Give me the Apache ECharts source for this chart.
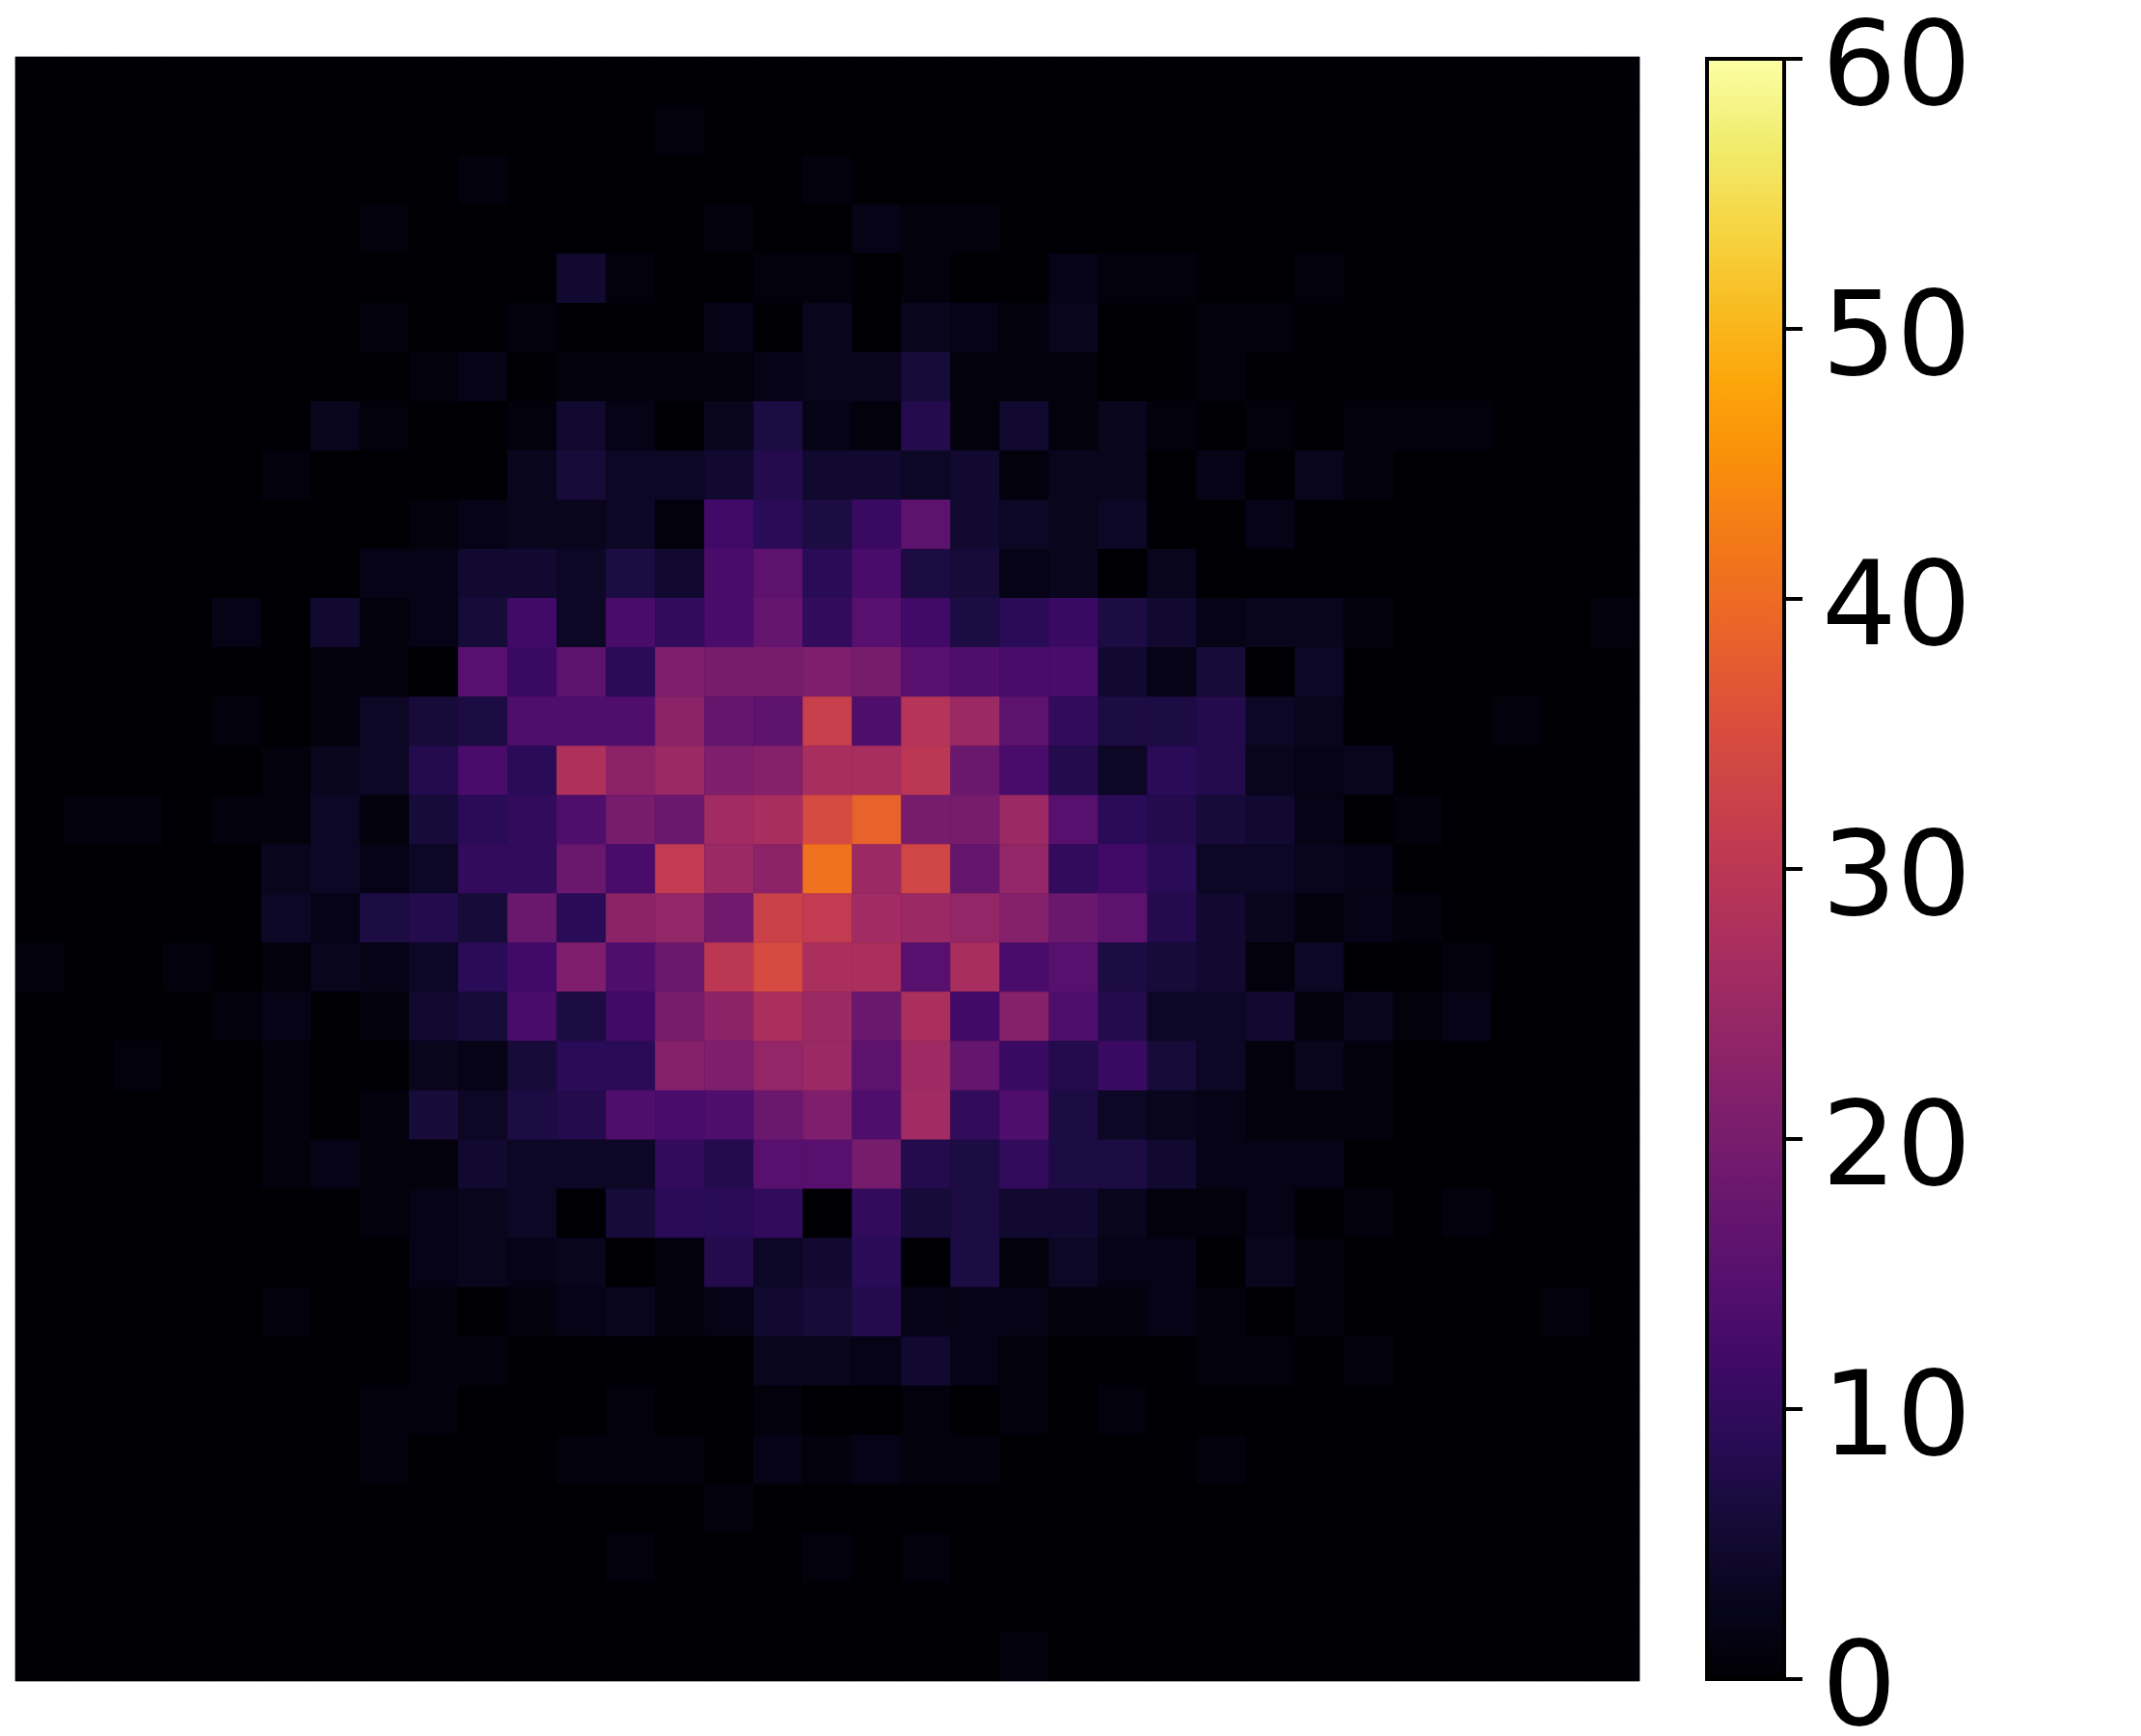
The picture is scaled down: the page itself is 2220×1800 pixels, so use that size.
<!DOCTYPE html>
<html>
<head>
<meta charset="utf-8">
<style>
  html, body { margin: 0; padding: 0; background: #fff; }
  #chart { width: 2220px; height: 1800px; }
</style>
<script src="https://cdn.jsdelivr.net/npm/echarts@6/dist/echarts.min.js"></script>
</head>
<body>
<div id="chart"></div>
<script>
const xCategories = ['0','1','2','3','4','5','6','7','8','9','10','11','12','13','14','15','16','17','18','19','20','21','22','23','24','25','26','27','28','29','30','31','32'];
const yCategories = ['0','1','2','3','4','5','6','7','8','9','10','11','12','13','14','15','16','17','18','19','20','21','22','23','24','25','26','27','28','29','30','31','32'];
const colorbarTicks = [0, 10, 20, 30, 40, 50, 60];

// inferno, sampled every 5%
const inferno = ['#000004','#08051d','#160b39','#2a0b57','#420a68','#57106e','#6a176e','#7e1e6c','#932667','#a82e5f','#bc3754','#cd4347','#dd513a','#ea6528','#f37819','#f98e0a','#fca50a','#f8be24','#f6d746','#f1ed71','#fcffa4'];

// one row per line, top row of the picture first
const counts = [
  [0,0,0,0,0,0,0,0,0,0,0,0,0,0,0,0,0,0,0,0,0,0,0,0,0,0,0,0,0,0,0,0,0],
  [0,0,0,0,0,0,0,0,0,0,0,0,0,1,0,0,0,0,0,0,0,0,0,0,0,0,0,0,0,0,0,0,0],
  [0,0,0,0,0,0,0,0,0,1,0,0,0,0,0,0,1,0,0,0,0,0,0,0,0,0,0,0,0,0,0,0,0],
  [0,0,0,0,0,0,0,1,0,0,0,0,0,0,1,0,0,2,1,1,0,0,0,0,0,0,0,0,0,0,0,0,0],
  [0,0,0,0,0,0,0,0,0,0,0,5,1,0,0,1,1,0,1,0,0,2,1,1,0,0,1,0,0,0,0,0,0],
  [0,0,0,0,0,0,0,1,0,0,1,0,0,0,2,0,3,0,3,2,1,3,0,0,1,1,0,0,0,0,0,0,0],
  [0,0,0,0,0,0,0,0,1,2,0,1,1,1,1,2,3,3,6,1,1,1,0,0,1,0,0,0,0,0,0,0,0],
  [0,0,0,0,0,0,3,1,0,0,1,5,2,0,3,7,2,1,8,1,5,1,3,1,0,1,0,1,1,1,0,0,0],
  [0,0,0,0,0,1,0,0,0,0,3,6,4,4,5,8,5,5,4,5,1,3,3,0,2,0,3,1,0,0,0,0,0],
  [0,0,0,0,0,0,0,0,1,2,3,3,4,1,12,9,7,11,16,5,4,3,4,0,0,2,0,0,0,0,0,0,0],
  [0,0,0,0,0,0,0,2,2,5,5,4,7,5,13,16,9,13,7,6,2,3,0,3,0,0,0,0,0,0,0,0,0],
  [0,0,0,0,2,0,5,1,2,6,12,4,13,10,13,17,10,15,12,7,9,11,7,5,2,3,3,1,0,0,0,0,1],
  [0,0,0,0,0,0,1,1,0,15,11,16,9,21,20,20,21,20,15,14,13,13,5,2,6,0,4,0,0,0,0,0,0],
  [0,0,0,0,1,0,1,4,6,7,14,14,14,23,17,16,32,14,29,25,16,10,7,7,8,4,3,0,0,0,1,0,0],
  [0,0,0,0,0,1,3,4,8,13,9,28,23,25,21,22,27,27,30,18,13,8,4,9,8,3,2,3,0,0,0,0,0],
  [0,1,1,0,1,1,4,1,6,9,10,14,20,18,26,27,34.5,38.5,20,20,25,15,9,8,6,5,2,0,1,0,0,0,0],
  [0,0,0,0,0,3,4,2,4,10,10,18,13,31,25,23,41,25,33.5,17,24,10,12,9,4,4,3,2,0,0,0,0,0],
  [0,0,0,0,0,4,2,7,8,6,18,9,23,24,19,32.5,31,26,25,24,22,18,16,8,5,3,1,2,1,0,0,0,0],
  [1,0,0,1,0,1,3,2,4,9,12,21,14,18,30,34.5,27.5,27.5,15,27,13,15,7,6,5,1,4,0,0,1,0,0,0],
  [0,0,0,0,1,2,0,1,5,6,13,7,12,20,23,27.5,25,18,27.5,12,22,14,8,4,4,5,1,3,1,2,0,0,0],
  [0,0,1,0,0,1,0,0,3,2,6,9,9,22,21,24,25,16,25.5,17,11,8,11,6,4,1,3,1,0,0,0,0,0],
  [0,0,0,0,0,1,0,1,6,4,7,8,14,13,14,18,21,14,26,10,14,7,4,3,2,1,1,1,0,0,0,0,0],
  [0,0,0,0,0,1,2,1,1,5,4,4,4,10,8,15,15,20,8,7,10,7,7,5,2,2,2,0,0,0,0,0,0],
  [0,0,0,0,0,0,0,1,2,3,4,0,6,9,9,10,0,10,6,7,5,5,3,1,1,2,0,1,0,1,0,0,0],
  [0,0,0,0,0,0,0,0,2,3,2,3,0,1,8,4,5,9,0,7,1,4,2,2,0,3,1,0,0,0,0,0,0],
  [0,0,0,0,0,1,0,0,1,0,1,2,3,1,2,5,6,8,2,2,2,1,1,2,1,0,1,0,0,0,0,1,0],
  [0,0,0,0,0,0,0,0,1,1,0,0,0,0,0,3,3,2,5,2,1,0,0,0,1,1,0,1,0,0,0,0,0],
  [0,0,0,0,0,0,0,1,1,0,0,0,1,0,0,1,0,0,1,0,1,0,1,0,0,0,0,0,0,0,0,0,0],
  [0,0,0,0,0,0,0,1,0,0,0,1,1,1,0,2,1,2,1,1,0,0,0,0,1,0,0,0,0,0,0,0,0],
  [0,0,0,0,0,0,0,0,0,0,0,0,0,0,1,0,0,0,0,0,0,0,0,0,0,0,0,0,0,0,0,0,0],
  [0,0,0,0,0,0,0,0,0,0,0,0,1,0,0,0,1,0,1,0,0,0,0,0,0,0,0,0,0,0,0,0,0],
  [0,0,0,0,0,0,0,0,0,0,0,0,0,0,0,0,0,0,0,0,0,0,0,0,0,0,0,0,0,0,0,0,0],
  [0,0,0,0,0,0,0,0,0,0,0,0,0,0,0,0,0,0,0,0,1,0,0,0,0,0,0,0,0,0,0,0,0]
];

const cells = [];
counts.forEach((row, y) => {
  row.forEach((v, x) => cells.push([x, y, v]));
});

const chart = echarts.init(document.getElementById('chart'), null, { renderer: 'canvas' });

chart.setOption({
  animation: false,
  backgroundColor: '#fff',
  grid: [
    {
      left: 16, top: 59, width: 1684, height: 1684,
      show: true, backgroundColor: '#000004', borderColor: '#bbb', borderWidth: 1,
      outerBoundsMode: 'none'
    },
    {
      // frame of the colorbar, sits over the visualMap gradient
      left: 1770, top: 61, width: 80, height: 1680, z: 5,
      show: true, backgroundColor: 'transparent', borderColor: '#000', borderWidth: 4,
      outerBoundsMode: 'none'
    }
  ],
  xAxis: [
    { type: 'category', gridIndex: 0, data: xCategories, show: false },
    { type: 'category', gridIndex: 1, data: [''], show: false }
  ],
  yAxis: [
    { type: 'category', gridIndex: 0, data: yCategories, inverse: true, show: false },
    {
      type: 'value', gridIndex: 1, position: 'right',
      min: colorbarTicks[0], max: colorbarTicks[colorbarTicks.length - 1], interval: 10,
      splitLine: { show: false },
      axisLine: { show: false },
      axisTick: { show: true, length: 19, lineStyle: { color: '#000', width: 4 } },
      axisLabel: {
        show: true, margin: 39, color: '#000',
        verticalAlign: 'top', lineHeight: 30,
        fontFamily: 'DejaVu Sans', fontSize: 122
      }
    }
  ],
  visualMap: {
    type: 'continuous',
    seriesIndex: 0,
    min: 0,
    max: 60,
    left: 1770,
    top: 61,
    itemWidth: 80,
    itemHeight: 1680,
    padding: 0,
    text: null,
    calculable: false,
    hoverLink: false,
    z: 1,
    inRange: { color: inferno }
  },
  series: [{
    type: 'heatmap',
    xAxisIndex: 0,
    yAxisIndex: 0,
    data: cells,
    itemStyle: { borderWidth: 0 },
    emphasis: { disabled: true }
  }]
});
</script>
</body>
</html>
